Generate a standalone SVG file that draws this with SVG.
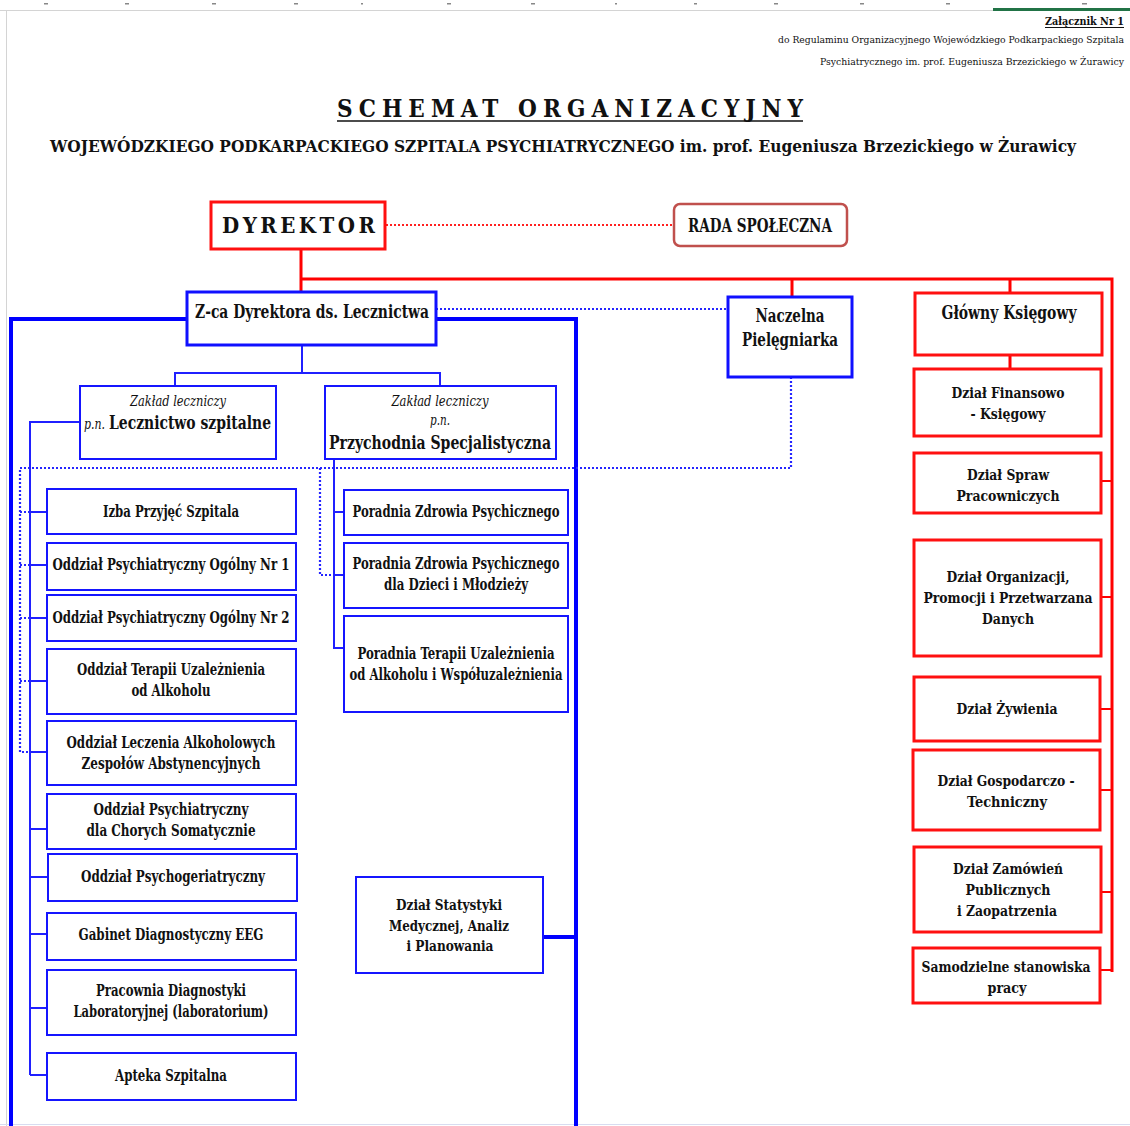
<svg xmlns="http://www.w3.org/2000/svg" width="1130" height="1126" viewBox="0 0 1130 1126">
<style>
text{font-family:"DejaVu Serif Condensed","DejaVu Serif",serif;fill:#111;}
.c{text-anchor:middle;}
.s16{font-size:16px;font-weight:bold;}
.s15{font-size:15px;font-weight:bold;}
.s19{font-size:19px;font-weight:bold;}
.it{font-style:italic;font-weight:normal;font-size:14px;}
.bb{fill:#fff;stroke:#1515ff;stroke-width:2;}
.bb3{fill:#fff;stroke:#1010ff;stroke-width:3;}
.rb{fill:#fff;stroke:#ff1010;stroke-width:3;}
.thin{fill:none;stroke:#2020ff;stroke-width:2;}
.thick{fill:none;stroke:#0000ff;stroke-width:4;}
.dot{fill:none;stroke:#2525ff;stroke-width:2.2;stroke-dasharray:2 2;}
.red{fill:none;stroke:#ff0000;stroke-width:3;}
.redt{fill:none;stroke:#ff0000;stroke-width:2;}
.rdot{fill:none;stroke:#ff2020;stroke-width:2.2;stroke-dasharray:2 2;}
.grid{stroke:#d4d4d4;stroke-width:1;}
</style>
<rect width="1130" height="1126" fill="#fff"/>
<g id="sheet">
<line class="grid" x1="0" y1="10.5" x2="1130" y2="10.5"/>
<line class="grid" x1="6.5" y1="10" x2="6.5" y2="1126"/>
<line x1="0" y1="1124.5" x2="1130" y2="1124.5" stroke="#d8dcf0" stroke-width="1"/>
<rect x="993" y="8" width="137" height="3" fill="#217346"/>
<g fill="#888">
<rect x="44" y="3" width="4" height="1.5"/><rect x="125" y="3" width="4" height="1.5"/><rect x="212" y="3" width="4" height="1.5"/><rect x="294" y="3" width="4" height="1.5"/><rect x="361" y="3" width="2" height="1.5"/><rect x="447" y="3" width="4" height="1.5"/><rect x="531" y="3" width="4" height="1.5"/><rect x="615" y="3" width="2" height="1.5"/><rect x="694" y="3" width="3" height="1.5"/><rect x="774" y="3" width="4" height="1.5"/><rect x="860" y="3" width="4" height="1.5"/><rect x="946" y="3" width="4" height="1.5"/><rect x="1082" y="3" width="5" height="1.5"/>
</g>
</g>
<g id="header">
<text x="1045" y="25" font-size="11" font-weight="bold" textLength="79" lengthAdjust="spacingAndGlyphs">Załącznik Nr 1</text>
<line x1="1045" y1="27.5" x2="1124" y2="27.5" stroke="#111" stroke-width="1"/>
<text x="778" y="43" font-size="9" textLength="346" lengthAdjust="spacingAndGlyphs">do Regulaminu Organizacyjnego Wojewódzkiego Podkarpackiego Szpitala</text>
<text x="820" y="65" font-size="9" textLength="304" lengthAdjust="spacingAndGlyphs">Psychiatrycznego im. prof. Eugeniusza Brzezickiego w Żurawicy</text>
<text x="337" y="117" font-size="24" font-weight="bold" textLength="466" lengthAdjust="spacing">SCHEMAT  ORGANIZACYJNY</text>
<line x1="337" y1="121" x2="803" y2="121" stroke="#111" stroke-width="1.5"/>
<text x="50" y="152" font-size="17" font-weight="bold" textLength="1026" lengthAdjust="spacingAndGlyphs">WOJEWÓDZKIEGO PODKARPACKIEGO SZPITALA PSYCHIATRYCZNEGO im. prof. Eugeniusza Brzezickiego w Żurawicy</text>
</g>
<g id="connectors">
<path class="rdot" d="M386,225 H674"/>
<path class="red" d="M301,249 V292 M301,279 H1112 V972 M792,279 V297 M1010,279 V293 M1010,355 V369"/>
<path class="redt" d="M1101,481 H1112 M1101,597 H1112 M1100,709 H1112 M1100,790 H1112 M1101,892 H1112 M1100,970 H1112"/>
<path class="thick" d="M187,319 H11 V1126 M436,319 H576 V1126 M543,937 H576"/>
<path class="dot" d="M436,309 H728 M791,377 V468 H20 V752 H30 M20,512 H30 M20,565 H30 M20,618 H30 M20,681 H30 M320,468 V575 H334"/>
<path class="thin" d="M302,345 V373 M175,386 V373 H440 V386 M80,422 H30 V1075 M30,512 H47 M30,565 H47 M30,618 H47 M30,681 H47 M30,752 H47 M30,829 H47 M30,877 H48 M30,934 H47 M30,1008 H47 M30,1075 H47 M334,459 V648 H344 M334,512 H344 M334,575 H344"/>
</g>
<g id="dyrektor"><rect class="rb" x="211" y="202" width="174" height="47"/><text x="222" y="233" font-size="22" font-weight="bold" textLength="153" lengthAdjust="spacing">DYREKTOR</text></g>
<g id="rada"><rect x="674" y="204" width="173" height="42" rx="6" fill="#fff" stroke="#c0504d" stroke-width="2.5"/><text class="c s19" x="760" y="232" textLength="144" lengthAdjust="spacingAndGlyphs">RADA SPOŁECZNA</text></g>
<g id="zca"><rect class="bb3" x="187" y="292" width="249" height="53"/><text class="c s19" x="312" y="318" textLength="234" lengthAdjust="spacingAndGlyphs">Z-ca Dyrektora ds. Lecznictwa</text></g>
<g id="naczelna"><rect class="bb3" x="728" y="297" width="124" height="80"/><text class="c s19" x="790" y="322" textLength="69" lengthAdjust="spacingAndGlyphs">Naczelna</text><text class="c s19" x="790" y="346" textLength="96" lengthAdjust="spacingAndGlyphs">Pielęgniarka</text></g>
<g id="glowny"><rect class="rb" x="915" y="293" width="187" height="62"/><text class="c s19" x="1009" y="319" textLength="135" lengthAdjust="spacingAndGlyphs">Główny Księgowy</text></g>
<g id="lecznictwo"><rect class="bb" x="80" y="386" width="196" height="73"/><text class="c it" x="178" y="406" textLength="96" lengthAdjust="spacingAndGlyphs">Zakład leczniczy</text><text class="it" x="84" y="429" font-size="13" textLength="21" lengthAdjust="spacingAndGlyphs">p.n.</text><text class="s19" x="109" y="429" textLength="162" lengthAdjust="spacingAndGlyphs">Lecznictwo szpitalne</text></g>
<g id="przychodnia"><rect class="bb" x="325" y="386" width="231" height="73"/><text class="c it" x="440" y="406" textLength="97" lengthAdjust="spacingAndGlyphs">Zakład leczniczy</text><text class="c it" x="440" y="425" font-size="13" textLength="20" lengthAdjust="spacingAndGlyphs">p.n.</text><text class="c s19" x="440" y="449" textLength="222" lengthAdjust="spacingAndGlyphs">Przychodnia Specjalistyczna</text></g>
<g id="izba"><rect class="bb" x="47" y="489" width="249" height="45"/><text class="c s16" x="171" y="517" textLength="136" lengthAdjust="spacingAndGlyphs">Izba Przyjęć Szpitala</text></g>
<g id="ogolny1"><rect class="bb" x="47" y="543" width="249" height="47"/><text class="c s16" x="171" y="570" textLength="237" lengthAdjust="spacingAndGlyphs">Oddział Psychiatryczny Ogólny Nr 1</text></g>
<g id="ogolny2"><rect class="bb" x="47" y="595" width="249" height="46"/><text class="c s16" x="171" y="623" textLength="237" lengthAdjust="spacingAndGlyphs">Oddział Psychiatryczny Ogólny Nr 2</text></g>
<g id="terapii"><rect class="bb" x="47" y="649" width="249" height="65"/><text class="c s16" x="171" y="675" textLength="188" lengthAdjust="spacingAndGlyphs">Oddział Terapii Uzależnienia</text><text class="c s16" x="171" y="696" textLength="79" lengthAdjust="spacingAndGlyphs">od Alkoholu</text></g>
<g id="leczenia"><rect class="bb" x="47" y="721" width="249" height="64"/><text class="c s16" x="171" y="748" textLength="209" lengthAdjust="spacingAndGlyphs">Oddział Leczenia Alkoholowych</text><text class="c s16" x="171" y="769" textLength="179" lengthAdjust="spacingAndGlyphs">Zespołów Abstynencyjnych</text></g>
<g id="somatycznie"><rect class="bb" x="47" y="794" width="249" height="55"/><text class="c s16" x="171" y="815" textLength="155" lengthAdjust="spacingAndGlyphs">Oddział Psychiatryczny</text><text class="c s16" x="171" y="836" textLength="169" lengthAdjust="spacingAndGlyphs">dla Chorych Somatycznie</text></g>
<g id="psychogeriatryczny"><rect class="bb" x="48" y="854" width="249" height="47"/><text class="c s16" x="173" y="882" textLength="184" lengthAdjust="spacingAndGlyphs">Oddział Psychogeriatryczny</text></g>
<g id="eeg"><rect class="bb" x="47" y="913" width="249" height="47"/><text class="c s16" x="171" y="940" textLength="185" lengthAdjust="spacingAndGlyphs">Gabinet Diagnostyczny EEG</text></g>
<g id="laboratorium"><rect class="bb" x="47" y="970" width="249" height="65"/><text class="c s16" x="171" y="996" textLength="150" lengthAdjust="spacingAndGlyphs">Pracownia Diagnostyki</text><text class="c s16" x="171" y="1017" textLength="195" lengthAdjust="spacingAndGlyphs">Laboratoryjnej (laboratorium)</text></g>
<g id="apteka"><rect class="bb" x="47" y="1053" width="249" height="47"/><text class="c s16" x="171" y="1081" textLength="112" lengthAdjust="spacingAndGlyphs">Apteka Szpitalna</text></g>
<g id="pzp"><rect class="bb" x="344" y="490" width="224" height="45"/><text class="c s16" x="456" y="517" textLength="207" lengthAdjust="spacingAndGlyphs">Poradnia Zdrowia Psychicznego</text></g>
<g id="pzp-dzieci"><rect class="bb" x="344" y="543" width="224" height="65"/><text class="c s16" x="456" y="569" textLength="207" lengthAdjust="spacingAndGlyphs">Poradnia Zdrowia Psychicznego</text><text class="c s16" x="456" y="590" textLength="144" lengthAdjust="spacingAndGlyphs">dla Dzieci i Młodzieży</text></g>
<g id="ptu"><rect class="bb" x="344" y="616" width="224" height="96"/><text class="c s16" x="456" y="659" textLength="197" lengthAdjust="spacingAndGlyphs">Poradnia Terapii Uzależnienia</text><text class="c s16" x="456" y="680" textLength="213" lengthAdjust="spacingAndGlyphs">od Alkoholu i Współuzależnienia</text></g>
<g id="statystyki"><rect class="bb" x="356" y="877" width="187" height="96"/><text class="c s15" x="449" y="910" textLength="106" lengthAdjust="spacingAndGlyphs">Dział Statystyki</text><text class="c s15" x="449" y="931" textLength="120" lengthAdjust="spacingAndGlyphs">Medycznej, Analiz</text><text class="c s15" x="450" y="951" textLength="87" lengthAdjust="spacingAndGlyphs">i Planowania</text></g>
<g id="finansowo"><rect class="rb" x="914" y="369" width="187" height="67"/><text class="c s15" x="1008" y="398" textLength="113" lengthAdjust="spacingAndGlyphs">Dział Finansowo</text><text class="c s15" x="1008" y="419" textLength="75" lengthAdjust="spacingAndGlyphs">- Księgowy</text></g>
<g id="pracownicze"><rect class="rb" x="914" y="453" width="187" height="60"/><text class="c s15" x="1008" y="480" textLength="82" lengthAdjust="spacingAndGlyphs">Dział Spraw</text><text class="c s15" x="1008" y="501" textLength="103" lengthAdjust="spacingAndGlyphs">Pracowniczych</text></g>
<g id="organizacji"><rect class="rb" x="914" y="540" width="187" height="116"/><text class="c s15" x="1008" y="582" textLength="123" lengthAdjust="spacingAndGlyphs">Dział Organizacji,</text><text class="c s15" x="1008" y="603" textLength="169" lengthAdjust="spacingAndGlyphs">Promocji i Przetwarzana</text><text class="c s15" x="1008" y="624" textLength="52" lengthAdjust="spacingAndGlyphs">Danych</text></g>
<g id="zywienia"><rect class="rb" x="914" y="677" width="186" height="64"/><text class="c s15" x="1007" y="714" textLength="101" lengthAdjust="spacingAndGlyphs">Dział Żywienia</text></g>
<g id="gospodarczo"><rect class="rb" x="913" y="750" width="187" height="80"/><text class="c s15" x="1006" y="786" textLength="137" lengthAdjust="spacingAndGlyphs">Dział Gospodarczo -</text><text class="c s15" x="1007" y="807" textLength="80" lengthAdjust="spacingAndGlyphs">Techniczny</text></g>
<g id="zamowien"><rect class="rb" x="914" y="847" width="187" height="85"/><text class="c s15" x="1008" y="874" textLength="110" lengthAdjust="spacingAndGlyphs">Dział Zamówień</text><text class="c s15" x="1008" y="895" textLength="85" lengthAdjust="spacingAndGlyphs">Publicznych</text><text class="c s15" x="1007" y="916" textLength="100" lengthAdjust="spacingAndGlyphs">i Zaopatrzenia</text></g>
<g id="samodzielne"><rect class="rb" x="913" y="948" width="187" height="55"/><text class="c s15" x="1006" y="972" textLength="169" lengthAdjust="spacingAndGlyphs">Samodzielne stanowiska</text><text class="c s15" x="1007" y="993" textLength="39" lengthAdjust="spacingAndGlyphs">pracy</text></g>
</svg>
